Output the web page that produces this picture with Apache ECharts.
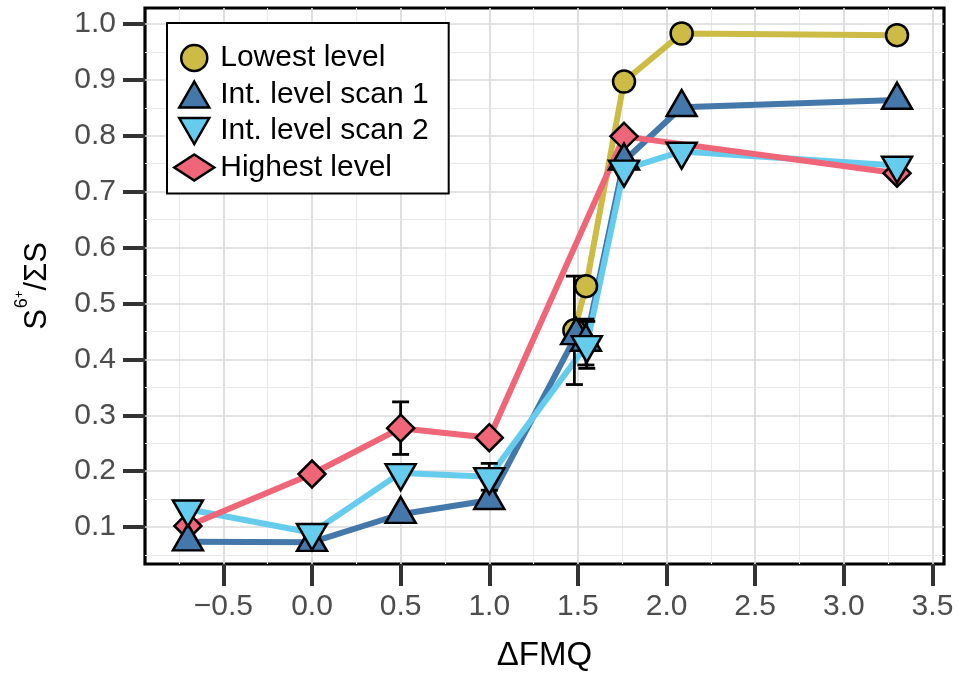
<!DOCTYPE html>
<html>
<head>
<meta charset="utf-8">
<script src="https://cdn.jsdelivr.net/npm/echarts@6/dist/echarts.min.js"></script>
<style>
  html, body { margin: 0; padding: 0; background: #fff; }
  #chart { width: 959px; height: 677px; }
</style>
</head>
<body>
<div id="chart"></div>
<script>
// Sulfate fraction versus oxygen fugacity for four analysis levels.
const seriesNames = ['Lowest level', 'Int. level scan 1', 'Int. level scan 2', 'Highest level'];

const lowestX = [1.48, 1.546, 1.76, 2.085, 3.30];
const lowestY = [0.452, 0.531, 0.897, 0.983, 0.980];
const lowestErr = [0.097, 0, 0, 0, 0];

const scan1X = [-0.70, 0.00, 0.50, 1.00, 1.49, 1.545, 1.76, 2.085, 3.30];
const scan1Y = [0.074, 0.073, 0.123, 0.148, 0.443, 0.431, 0.755, 0.851, 0.864];
const scan1Err = [0, 0, 0, 0, 0, 0.041, 0, 0, 0];

const scan2X = [-0.70, 0.00, 0.50, 1.00, 1.55, 1.76, 2.085, 3.30];
const scan2Y = [0.132, 0.090, 0.197, 0.190, 0.426, 0.740, 0.772, 0.747];
const scan2Err = [0, 0, 0, 0.024, 0.042, 0, 0, 0];

const highestX = [-0.70, 0.00, 0.50, 1.00, 1.76, 3.30];
const highestY = [0.102, 0.195, 0.277, 0.260, 0.799, 0.733];
const highestErr = [0, 0, 0.047, 0, 0, 0];

const xTicks = [-0.5, 0.0, 0.5, 1.0, 1.5, 2.0, 2.5, 3.0, 3.5];
const yTicks = [0.1, 0.2, 0.3, 0.4, 0.5, 0.6, 0.7, 0.8, 0.9, 1.0];
const xMinorLines = [-0.75, -0.25, 0.25, 0.75, 1.25, 1.75, 2.25, 2.75, 3.25];
const yMinorLines = [0.05, 0.15, 0.25, 0.35, 0.45, 0.55, 0.65, 0.75, 0.85, 0.95];

const colors = ['#CCBB44', '#4477AA', '#66CCEE', '#EE6677'];
const TRI_UP = 'path://M15,0L30,26L0,26Z';
const TRI_DOWN = 'path://M0,0L30,0L15,26Z';
const FONT = '"Liberation Sans", Arial, Helvetica, sans-serif';

const groups = [
  { name: seriesNames[0], xs: lowestX, ys: lowestY, err: lowestErr, color: colors[0],
    symbol: 'circle', size: 22, offset: [0, 0], z: 5 },
  { name: seriesNames[1], xs: scan1X, ys: scan1Y, err: scan1Err, color: colors[1],
    symbol: TRI_UP, size: [30, 26], offset: [0, -4.3], z: 6 },
  { name: seriesNames[2], xs: scan2X, ys: scan2Y, err: scan2Err, color: colors[2],
    symbol: TRI_DOWN, size: [30, 26], offset: [0, 4.3], z: 7 },
  { name: seriesNames[3], xs: highestX, ys: highestY, err: highestErr, color: colors[3],
    symbol: 'diamond', size: 27, offset: [0, 0], z: 4 }
];

const pairs = (xs, ys) => xs.map((x, i) => [x, ys[i]]);

const fmt = v => (v < 0 ? '\u2212' : '') + Math.abs(v).toFixed(1);

// background grid, drawn in data coordinates
const gridLines = [];
xTicks.forEach(v => gridLines.push({ xAxis: v, lineStyle: { color: '#DADADA', width: 1.7, type: 'solid' } }));
xMinorLines.forEach(v => gridLines.push({ xAxis: v, lineStyle: { color: '#E9E9E9', width: 1.1, type: 'solid' } }));
yTicks.forEach(v => gridLines.push({ yAxis: v, lineStyle: { color: '#DADADA', width: 1.7, type: 'solid' } }));
yMinorLines.forEach(v => gridLines.push({ yAxis: v, lineStyle: { color: '#E9E9E9', width: 1.1, type: 'solid' } }));

const series = [];
series.push({
  type: 'scatter', name: 'grid', data: [], silent: true, z: 0,
  markLine: { z: 0, silent: true, symbol: 'none', label: { show: false }, animation: false, data: gridLines }
});

// connecting lines
groups.forEach(g => {
  series.push({
    type: 'line', name: g.name + ' line', data: pairs(g.xs, g.ys),
    symbol: 'none', showSymbol: false, silent: true, z: 2,
    lineStyle: { color: g.color, width: 6 }
  });
});

// error bars
const errData = [];
groups.forEach(g => g.xs.forEach((x, i) => { if (g.err[i] > 0) errData.push([x, g.ys[i], g.err[i]]); }));
series.push({
  type: 'custom', name: 'errors', data: errData, z: 3, silent: true,
  encode: { x: 0, y: 1 },
  renderItem: (params, api) => {
    const x = api.value(0), y = api.value(1), e = api.value(2);
    const top = api.coord([x, y + e]);
    const bot = api.coord([x, y - e]);
    const hw = 8.5;
    const st = { stroke: '#000', lineWidth: 2.8 };
    return {
      type: 'group',
      children: [
        { type: 'line', shape: { x1: top[0], y1: top[1], x2: bot[0], y2: bot[1] }, style: st },
        { type: 'line', shape: { x1: top[0] - hw, y1: top[1], x2: top[0] + hw, y2: top[1] }, style: st },
        { type: 'line', shape: { x1: bot[0] - hw, y1: bot[1], x2: bot[0] + hw, y2: bot[1] }, style: st }
      ]
    };
  }
});

// point markers
groups.forEach(g => {
  series.push({
    type: 'scatter', name: g.name, data: pairs(g.xs, g.ys),
    symbol: g.symbol, symbolSize: g.size, symbolOffset: g.offset, z: g.z,
    itemStyle: { color: g.color, borderColor: '#000', borderWidth: 2.5, opacity: 1 }
  });
});

const legendItems = groups.map(g => ({
  name: g.name,
  icon: g.symbol,
  itemStyle: { color: g.color, borderColor: '#000', borderWidth: 2.5 }
}));

const chart = echarts.init(document.getElementById('chart'), null, { renderer: 'canvas' });
chart.setOption({
  animation: false,
  backgroundColor: '#ffffff',
  textStyle: { fontFamily: FONT },
  grid: {
    left: 145, right: 15, top: 8, bottom: 112,
    show: true, borderColor: '#000', borderWidth: 3.2, backgroundColor: 'transparent'
  },
  xAxis: {
    type: 'value', min: -0.942, max: 3.565,
    axisLine: { show: false, onZero: false },
    axisTick: { show: true, length: 22, customValues: xTicks, lineStyle: { color: '#333', width: 4 } },
    axisLabel: { customValues: xTicks, formatter: fmt, fontSize: 30, color: '#4D4D4D', margin: 28, fontFamily: FONT },
    splitLine: { show: false },
    name: '\u0394FMQ', nameLocation: 'middle', nameGap: 75,
    nameTextStyle: { fontSize: 33, color: '#000', fontFamily: FONT }
  },
  yAxis: {
    type: 'value', min: 0.034, max: 1.0286,
    axisLine: { show: false, onZero: false },
    axisTick: { show: true, length: 22, customValues: yTicks, lineStyle: { color: '#333', width: 4 } },
    axisLabel: { customValues: yTicks, formatter: fmt, fontSize: 30, color: '#4D4D4D', margin: 29, fontFamily: FONT },
    splitLine: { show: false },
    name: '{s|S}{sup|6}{sup2|+}{s|/\u03A3S}', nameLocation: 'middle', nameGap: 92, nameRotate: 90,
    nameTextStyle: {
      color: '#000', fontFamily: FONT,
      rich: {
        s: { fontSize: 31, color: '#000', fontFamily: FONT, lineHeight: 38, verticalAlign: 'bottom' },
        sup: { fontSize: 18, color: '#000', fontFamily: FONT, lineHeight: 38, verticalAlign: 'top', padding: [0, 0, 0, 1] },
        sup2: { fontSize: 13, color: '#000', fontFamily: FONT, lineHeight: 40, verticalAlign: 'top' }
      }
    }
  },
  legend: {
    orient: 'vertical', left: 167, top: 23, z: 10,
    data: legendItems,
    itemWidth: 40, itemHeight: 26, itemGap: 6.5,
    padding: [20, 20, 11, 6],
    backgroundColor: '#fff', borderColor: '#000', borderWidth: 2,
    selectedMode: false,
    textStyle: { fontSize: 30, color: '#000', fontFamily: FONT, padding: [0, 0, 0, 1] }
  },
  series: series
});
</script>
</body>
</html>
